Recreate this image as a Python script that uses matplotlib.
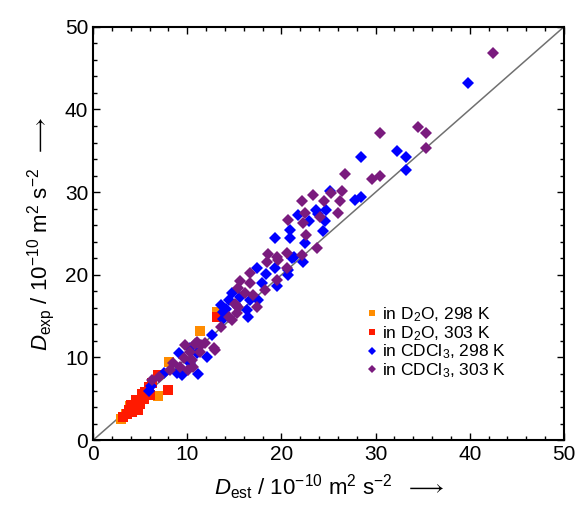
import matplotlib.pyplot as plt

plt.rcParams['font.family'] = ['Liberation Sans', 'DejaVu Sans']
plt.rcParams['mathtext.fontset'] = 'custom'
plt.rcParams['mathtext.rm'] = 'Liberation Sans'
plt.rcParams['mathtext.it'] = 'Liberation Sans:italic'
plt.rcParams['mathtext.fallback'] = 'stixsans'

# D2O, 298 K
d2o_298_x = [3.0, 3.5, 3.9, 4.4, 5.6, 6.9, 8.1, 11.4, 13.2]
d2o_298_y = [2.5, 3.2, 4.1, 3.9, 5.5, 5.3, 9.4, 13.2, 15.5]

# D2O, 303 K
d2o_303_x = [13.2, 6.9, 7.9, 5.5, 5.2, 4.6, 5.0, 4.3, 4.8, 3.6, 3.2, 4.1, 5.9, 6.3, 4.0, 5.4, 3.8, 4.5, 6.0]
d2o_303_y = [14.9, 7.9, 6.1, 5.8, 5.6, 4.8, 4.4, 3.8, 3.7, 3.2, 2.8, 3.4, 6.4, 6.9, 4.3, 5.0, 3.6, 4.2, 5.5]

# CDCl3, 298 K
cdcl3_298_x = [39.8, 28.5, 32.3, 33.2, 33.2, 25.2, 27.8, 28.5, 21.8, 23.7, 23.9, 24.7, 22.9, 24.6,
               20.9, 24.4, 19.3, 20.9, 22.5, 21.3, 17.4, 18.4, 19.3, 20.7, 17.9, 19.5, 14.7, 15.6,
               14.4, 16.7, 17.5, 16.3, 13.8, 13.8, 16.4, 12.6, 10.3, 12.1, 9.1, 11.0, 10.3, 7.5,
               8.9, 9.4, 11.1, 6.1, 5.9, 15.2, 14.1, 13.6, 22.3, 21.1, 20.7]
cdcl3_298_y = [43.2, 34.3, 35.0, 34.3, 32.7, 30.1, 29.0, 29.4, 27.2, 27.8, 27.4, 27.8, 26.5, 26.5,
               25.4, 25.3, 24.5, 24.4, 23.8, 22.1, 20.8, 20.1, 20.8, 20.0, 19.0, 18.6, 17.8, 17.3,
               16.9, 16.9, 16.9, 15.7, 15.5, 14.7, 14.9, 12.7, 11.1, 10.1, 10.5, 10.5, 9.3, 8.1,
               8.1, 7.9, 8.0, 6.5, 6.0, 16.3, 15.9, 16.4, 21.6, 22.0, 20.6]

# CDCl3, 303 K
cdcl3_303_x = [42.5, 30.5, 34.5, 35.4, 35.4, 26.7, 29.6, 30.5, 25.3, 26.4, 23.3, 24.5, 22.2, 26.2,
               22.5, 24.1, 26.0, 20.7, 22.3, 22.6, 23.8, 18.6, 19.5, 20.6, 22.2, 19.6, 18.5, 16.7,
               20.6, 19.5, 15.6, 16.7, 18.2, 15.4, 16.1, 17.0, 15.1, 17.4, 15.4, 15.3, 14.4, 14.7,
               13.6, 9.8, 10.8, 11.5, 12.8, 11.0, 11.9, 12.9, 10.3, 11.4, 9.6, 10.5, 8.5, 9.2,
               8.2, 10.1, 10.6, 6.2, 7.0]
cdcl3_303_y = [46.8, 37.2, 37.9, 37.2, 35.4, 32.2, 31.6, 31.9, 29.9, 30.2, 29.7, 28.9, 28.9, 28.9,
               27.5, 27.0, 27.5, 26.6, 26.3, 24.8, 23.3, 22.5, 22.2, 22.6, 22.4, 21.8, 21.6, 20.2,
               20.8, 19.4, 19.2, 19.0, 18.2, 18.4, 17.8, 17.6, 16.5, 16.1, 16.1, 15.4, 14.9, 14.5,
               13.7, 11.5, 11.6, 11.5, 11.1, 11.9, 11.7, 10.9, 10.7, 10.7, 9.9, 9.7, 9.3, 8.9,
               8.5, 8.5, 8.9, 7.3, 7.6]

fig = plt.figure(figsize=(5.82, 5.16), dpi=100)
ax = fig.add_axes([0.160, 0.147, 0.809, 0.801])

ax.plot([0, 50], [0, 50], color='#707070', lw=1.1, zorder=1)

ax.plot(d2o_298_x, d2o_298_y, 's', color='#ff8c00', ms=6.5, mew=0, label=r'in D$_2$O, 298 K', zorder=2)
ax.plot(d2o_303_x, d2o_303_y, 's', color='#ff1a00', ms=6.5, mew=0, label=r'in D$_2$O, 303 K', zorder=3)
ax.plot(cdcl3_298_x, cdcl3_298_y, 'D', color='#0000ff', ms=6.5, mew=0, label=r'in CDCl$_3$, 298 K', zorder=4)
ax.plot(cdcl3_303_x, cdcl3_303_y, 'D', color='#7a1b7e', ms=6.5, mew=0, label=r'in CDCl$_3$, 303 K', zorder=5)

ax.set_xlim(0, 50)
ax.set_ylim(0, 50)
ax.set_xticks(range(0, 51, 10))
ax.set_yticks(range(0, 51, 10))
ax.set_xticks(range(0, 51, 2), minor=True)
ax.set_yticks(range(0, 51, 2), minor=True)
ax.tick_params(which='both', direction='in', top=True, right=True, labelsize=15, width=1)
ax.tick_params(which='major', length=5)
ax.tick_params(which='minor', length=3)
for s in ax.spines.values():
    s.set_linewidth(1.5)

ax.set_xlabel(r'$D_{\rm est}$ / 10$^{-10}$ m$^2$ s$^{-2}$  $\longrightarrow$', fontsize=16, labelpad=6)
ax.set_ylabel(r'$D_{\rm exp}$ / 10$^{-10}$ m$^2$ s$^{-2}$  $\longrightarrow$', fontsize=16, labelpad=6)

leg = ax.legend(loc='lower right', bbox_to_anchor=(0.9, 0.12), frameon=False, fontsize=12.5,
                handlelength=0.5, handletextpad=0.35, labelspacing=0.0, borderaxespad=0.2,
                markerscale=0.7)

plt.savefig('out.png', dpi=100)
